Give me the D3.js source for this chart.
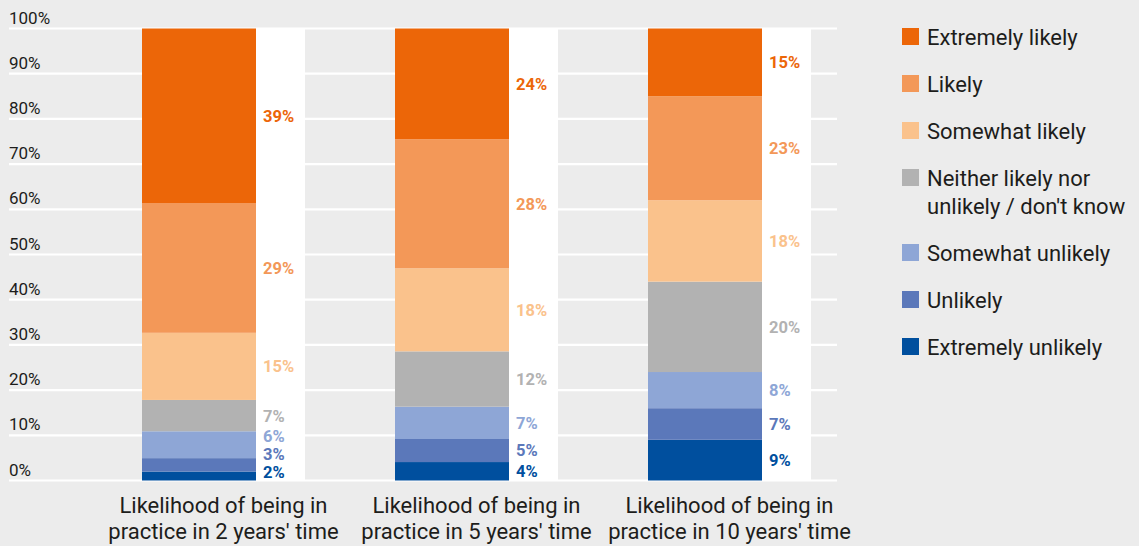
<!DOCTYPE html>
<html>
<head>
<meta charset="utf-8">
<script src="https://cdn.jsdelivr.net/npm/d3@7"></script>
<style>
  html, body { margin: 0; padding: 0; background: #ececec; }
  svg { display: block; }
  text { font-family: Roboto, "Liberation Sans", sans-serif; }
</style>
</head>
<body>
<svg id="chart" width="1139" height="546"></svg>
<script>
// Survey categories (x axis), two-line labels
const categories = ["2 years", "5 years", "10 years"];
const categoryLines = [
  ["Likelihood of being in", "practice in 2 years' time"],
  ["Likelihood of being in", "practice in 5 years' time"],
  ["Likelihood of being in", "practice in 10 years' time"]
];

// Response series, stacked from bottom to top
const seriesNames = [
  "Extremely unlikely",
  "Unlikely",
  "Somewhat unlikely",
  "Neither likely nor unlikely / don't know",
  "Somewhat likely",
  "Likely",
  "Extremely likely"
];
const seriesColors = ["#004f9e", "#5b78ba", "#8ea6d6", "#b2b2b2", "#fac28c", "#f39858", "#ec6608"];

// Percentages per category, one array per series
const extremelyUnlikely = [2, 4, 9];
const unlikely          = [3, 5, 7];
const somewhatUnlikely  = [6, 7, 8];
const neither           = [7, 12, 20];
const somewhatLikely    = [15, 18, 18];
const likely            = [29, 28, 23];
const extremelyLikely   = [39, 24, 15];

// Legend order (top to bottom) and lines
const legendOrder = [6, 5, 4, 3, 2, 1, 0];
const legendLines = [
  ["Extremely unlikely"],
  ["Unlikely"],
  ["Somewhat unlikely"],
  ["Neither likely nor", "unlikely / don't know"],
  ["Somewhat likely"],
  ["Likely"],
  ["Extremely likely"]
];

// Y axis ticks
const tickValues = [0, 0.1, 0.2, 0.3, 0.4, 0.5, 0.6, 0.7, 0.8, 0.9, 1.0];

const seriesValues = [extremelyUnlikely, unlikely, somewhatUnlikely, neither, somewhatLikely, likely, extremelyLikely];
const rows = categories.map((c, i) => {
  const r = { category: c };
  seriesNames.forEach((s, j) => { r[s] = seriesValues[j][i]; });
  return r;
});

const svg = d3.select("#chart");
const textColor = "#1d1d1b";

const y = d3.scaleLinear().domain([0, 1]).range([480.5, 28.5]);
const x = d3.scaleBand().domain(categories)
  .range([15.5, 937.5]).paddingInner(90 / 253).paddingOuter(0.5);
const barFrac = 114 / 163;

// Gridlines
svg.append("g").selectAll("line").data(tickValues).join("line")
  .attr("x1", 9).attr("x2", 837)
  .attr("y1", d => y(d)).attr("y2", d => y(d))
  .attr("stroke", "#ffffff").attr("stroke-width", 2.2);

// Tick labels sit above each gridline
svg.append("g").selectAll("text").data(tickValues).join("text")
  .attr("x", 9).attr("y", d => y(d) - 5)
  .attr("font-size", 17).attr("fill", textColor)
  .text(d => Math.round(d * 100) + "%");

// White label columns
svg.append("g").selectAll("rect").data(categories).join("rect")
  .attr("x", d => x(d)).attr("width", x.bandwidth())
  .attr("y", y(1)).attr("height", y(0) - y(1))
  .attr("fill", "#ffffff");

// Stacked bars, normalised to 100%
const stack = d3.stack().keys(seriesNames).offset(d3.stackOffsetExpand);
const stacked = stack(rows);

const layer = svg.append("g").selectAll("g").data(stacked).join("g")
  .attr("fill", (d, i) => seriesColors[i]);
layer.selectAll("rect").data(d => d).join("rect")
  .attr("x", d => x(d.data.category))
  .attr("width", x.bandwidth() * barFrac)
  .attr("y", d => y(d[1]))
  .attr("height", d => y(d[0]) - y(d[1]));

// Value labels, centred on segments and nudged apart when crowded
const labelGap = 18;
categories.forEach((c, ci) => {
  let prev = y(0) - 8.5 + labelGap;
  stacked.forEach((s, si) => {
    const seg = s[ci];
    const centre = (y(seg[0]) + y(seg[1])) / 2;
    const yy = Math.min(centre, prev - labelGap);
    prev = yy;
    svg.append("text")
      .attr("x", x(c) + x.bandwidth() * barFrac + 7)
      .attr("y", yy)
      .attr("dy", "0.36em")
      .attr("font-size", 16.5).attr("font-weight", 700)
      .attr("fill", seriesColors[si])
      .text(seg.data[s.key] + "%");
  });
});

// Category labels
const cat = svg.append("g").selectAll("text").data(categories).join("text")
  .attr("text-anchor", "middle")
  .attr("font-size", 22).attr("fill", textColor);
cat.each(function (d, i) {
  const t = d3.select(this);
  categoryLines[i].forEach((line, k) => {
    t.append("tspan")
      .attr("x", x(d) + x.bandwidth() / 2)
      .attr("y", 512.5 + k * 26.5)
      .text(line);
  });
});

// Legend
let ly = 28;
const legend = svg.append("g");
legendOrder.forEach(si => {
  legend.append("rect")
    .attr("x", 902).attr("y", ly).attr("width", 17).attr("height", 17)
    .attr("fill", seriesColors[si]);
  const t = legend.append("text").attr("font-size", 22).attr("fill", textColor);
  legendLines[si].forEach((line, k) => {
    t.append("tspan").attr("x", 927).attr("y", ly + 16.5 + k * 28).text(line);
  });
  ly += 47 + (legendLines[si].length - 1) * 28;
});
</script>
</body>
</html>
